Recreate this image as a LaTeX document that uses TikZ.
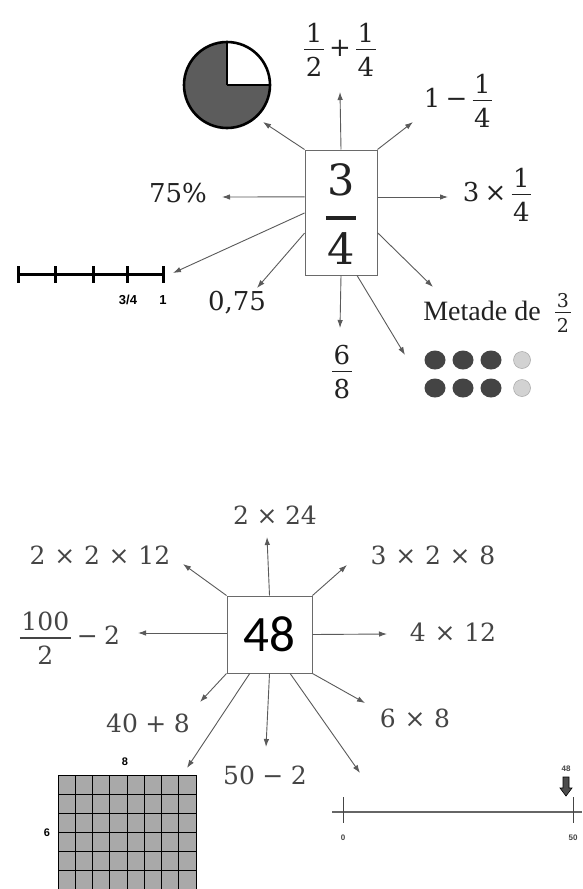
\documentclass[tikz,border=0pt]{standalone}
\usepackage{fontspec}
\setmainfont{Liberation Serif}
\setsansfont{Liberation Sans}
\newfontfamily\carlito{Carlito}
\newfontfamily\expfont{DejaVu Serif}
\usetikzlibrary{arrows.meta,calc}
\definecolor{txt}{HTML}{222222}
\definecolor{txtb}{HTML}{454545}
\definecolor{arr}{HTML}{5A5A5A}
\definecolor{boxc}{HTML}{6A6A6A}
\definecolor{piec}{HTML}{5C5C5C}
\definecolor{dotd}{HTML}{444444}
\definecolor{dotl}{HTML}{D2D2D2}
\definecolor{gridc}{HTML}{A9A9A9}
% general fraction: rule, gap above rule, gap below rule, numerator, denominator
\newcommand\frx[5]{\ensuremath{\vcenter{\offinterlineskip\halign{\hfil\kern1.5pt##\kern1.5pt\hfil\cr\mbox{#4}\cr\noalign{\kern#2\hrule height #1\kern#3}\mbox{#5}\cr}}}}
\newcommand\fr[2]{\frx{1.7pt}{6pt}{7pt}{#1}{#2}}
\newcommand\op[2][0.2em]{\hspace{#1}#2\hspace{#1}}
\begin{document}
\begin{tikzpicture}[x=1pt,y=-1pt,
  con/.style={draw=arr,line width=0.9pt,-{Latex[length=8pt,width=5.5pt]}},
  mbox/.style={draw=boxc,line width=1pt,fill=white},
  ex/.style={text=txt,inner sep=0pt,font=\expfont\fontsize{26}{30}\selectfont},
  exb/.style={text=txtb,inner sep=0pt,font=\expfont\fontsize{25}{30}\selectfont},
  smalllab/.style={inner sep=0pt,font=\sffamily\bfseries\fontsize{11}{12}\selectfont},
  darkdot/.style={fill=dotd},
  lightdot/.style={fill=dotl,draw=gray!70,line width=0.5pt},
]
\useasboundingbox (0,0) rectangle (582,889);
\fill[white] (0,0) rectangle (582,889);

%================ TOP ================
\node[mbox,minimum width=72pt,minimum height=125pt] (b1) at (341,212.5) {};
\node[text=txt,inner sep=0pt,font=\expfont\fontsize{43}{48}\selectfont] (v1) at (341,214) {\frx{4pt}{20pt}{13pt}{3}{4}};

\node[ex] (e1) at (340,50) {\fr{1}{2}\op{+}\fr{1}{4}};
\node[ex] (e2) at (458,101) {1\op{−}\fr{1}{4}};
\node[ex] (e3) at (497,195) {3\op{×}\fr{1}{4}};
\node[ex,font=\fontsize{28}{30}\selectfont] (e4) at (482,311) {Metade de};
\node[ex,font=\expfont\fontsize{19}{22}\selectfont] (e4f) at (563,313) {\frx{1.5pt}{4pt}{5pt}{3}{2}};
\node[ex] (e5) at (342,372) {\fr{6}{8}};
\node[ex] (e6) at (178,193) {75\%};
\node[ex] (e7) at (237,303) {0,75};

% pie
\node[circle,minimum size=86pt,inner sep=0pt] (pie) at (227,85) {};
\fill[piec] (pie.center) circle (43);
\fill[white] (pie.center) -- ++(0,-43) arc[start angle=-90,end angle=0,radius=43] -- cycle;
\draw[line width=2.6pt] (pie.center) -- ++(0,-43);
\draw[line width=2.6pt] (pie.center) -- ++(43,0);
\draw[line width=2.6pt] (pie.center) circle (43);

% number line (top)
\draw[line width=3pt] (18,274) -- (163,274);
\foreach \x in {18,55,93,127,163} \draw[line width=3pt] (\x,266) -- (\x,283);
\node[smalllab,font=\sffamily\bfseries\fontsize{13}{14}\selectfont] (l34) at (128,300) {3/4};
\node[smalllab,font=\sffamily\bfseries\fontsize{13}{14}\selectfont] (l1) at (163,300) {1};

% dots
\foreach \x in {435,463,491} {
  \fill[darkdot] (\x,360) ellipse (10.5 and 9.5);
  \fill[darkdot] (\x,388) ellipse (10.5 and 9.5);
}
\filldraw[lightdot] (522,360) circle (8.5);
\filldraw[lightdot] (522,388) circle (8.5);

% arrow ends
\coordinate (t1) at (340,92);
\coordinate (t2) at (413,122);
\coordinate (t3) at (448,197);
\coordinate (t4) at (433,287);
\coordinate (t5) at (405,355);
\coordinate (t6) at (340,328);
\coordinate (t7) at (263,122);
\coordinate (t8) at (222,197);
\coordinate (t9) at (173,273);
\coordinate (t10) at (257,288);

\draw[con] (b1.north) -- (t1);
\draw[con] (b1.north east) -- (t2);
\draw[con] (b1.east) ++(0,-15.5) -- (t3);
\draw[con] ($(b1.north east)!0.66!(b1.south east)$) -- (t4);
\draw[con] ($(b1.south west)!0.72!(b1.south east)$) -- (t5);
\draw[con] (b1.south) -- (t6);
\draw[con] (b1.north west) -- (t7);
\draw[con] ($(b1.north west)!0.376!(b1.south west)$) -- (t8);
\draw[con] ($(b1.north west)!0.504!(b1.south west)$) -- (t9);
\draw[con] ($(b1.north west)!0.664!(b1.south west)$) -- (t10);

%================ BOTTOM ================
\node[mbox,minimum width=85pt,minimum height=77pt] (b2) at (269.5,634.5) {};
\node[inner sep=0pt,font=\carlito\fontsize{51}{54}\selectfont] (v2) at (b2.center) {48};

\node[exb] (g1) at (275,515) {2\op[0.3em]{×}24};
\node[exb] (g2) at (100,555) {2\op[0.35em]{×}2\op[0.35em]{×}12};
\node[exb] (g3) at (70,638) {\fr{100}{2}\op[0.25em]{−}2};
\node[exb] (g4) at (433,555) {3\op[0.35em]{×}2\op[0.35em]{×}8};
\node[exb] (g5) at (453,632) {4\op[0.35em]{×}12};
\node[exb] (g6) at (415,718) {6\op[0.35em]{×}8};
\node[exb] (g7) at (148,723) {40\op[0.3em]{+}8};
\node[exb] (g8) at (265,775) {50\op[0.3em]{−}2};

% grid
\fill[gridc] (58,775) rectangle (196,889);
\foreach \i in {0,...,8} \draw[line width=0.8pt] (58+\i*17.25,775) -- (58+\i*17.25,889);
\foreach \j in {0,...,6} \draw[line width=0.8pt] (58,775+\j*19) -- (196,775+\j*19);
\node[smalllab] (l8) at (125,762) {8};
\node[smalllab] (l6) at (47,833) {6};

% number line (bottom)
\draw[draw=gray!80!black,line width=1.2pt] (332,812) -- (582,812);
\draw[draw=txtb,line width=1pt] (343,797) -- (343,823);
\draw[draw=txtb,line width=1pt] (573,797) -- (573,823);
\node[inner sep=0pt,text=txtb,font=\sffamily\bfseries\fontsize{8}{9}\selectfont] (n0) at (343,838) {0};
\node[inner sep=0pt,text=txtb,font=\sffamily\bfseries\fontsize{8}{9}\selectfont] (n50) at (573,838) {50};
\node[inner sep=0pt,text=txtb,font=\sffamily\bfseries\fontsize{8}{9}\selectfont] (n48) at (566,769) {48};
\filldraw[fill=gray!60!black,draw=black,line width=0.6pt]
  (563,777) -- (569,777) -- (569,788) -- (572,788) -- (566,796) -- (560,788) -- (563,788) -- cycle;

% arrow ends
\coordinate (s1) at (267,537);
\coordinate (s2) at (183,564);
\coordinate (s3) at (138,633);
\coordinate (s4) at (347,565);
\coordinate (s5) at (387,634);
\coordinate (s6) at (365,703);
\coordinate (s7) at (360,773);
\coordinate (s8) at (266,747);
\coordinate (s9) at (187,768);
\coordinate (s10) at (200,702);

\draw[con] (b2.north) -- (s1);
\draw[con] (b2.north west) -- (s2);
\draw[con] (b2.west) ++(0,-1.5) -- (s3);
\draw[con] (b2.north east) -- (s4);
\draw[con] (b2.east) -- (s5);
\draw[con] (b2.south east) -- (s6);
\draw[con] ($(b2.south west)!0.74!(b2.south east)$) -- (s7);
\draw[con] (b2.south) -- (s8);
\draw[con] ($(b2.south west)!0.27!(b2.south east)$) -- (s9);
\draw[con] (b2.south west) -- (s10);
\end{tikzpicture}
\end{document}
